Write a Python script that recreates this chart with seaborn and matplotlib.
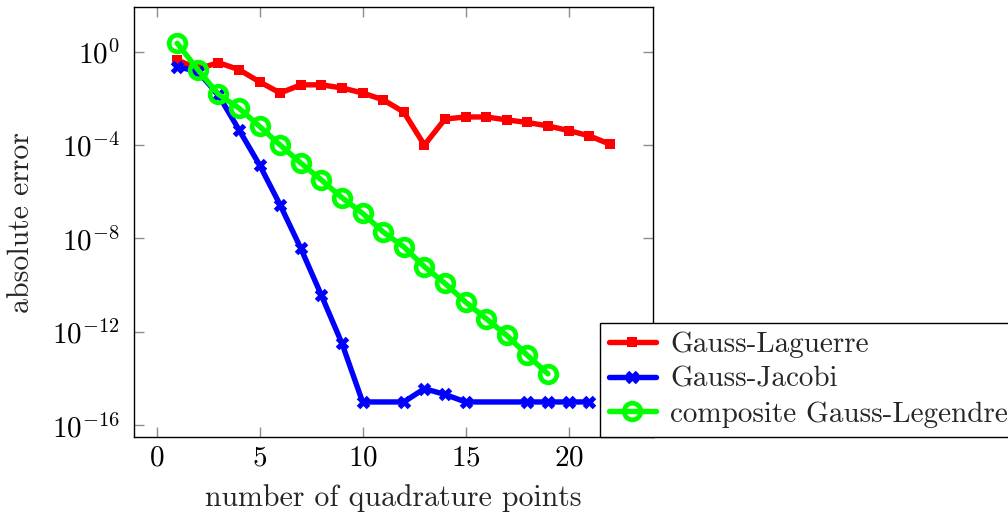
import numpy as np
import pandas as pd
import seaborn as sns
import matplotlib.pyplot as plt

# absolute errors
lag_n = list(range(1, 23))
lag_err = [4.5e-1, 1.8e-1, 3.4e-1, 1.7e-1, 5.1e-2, 1.7e-2, 3.8e-2, 3.8e-2, 2.8e-2, 1.7e-2, 8.7e-3,
           2.6e-3, 1.0e-4, 1.3e-3, 1.6e-3, 1.6e-3, 1.2e-3, 9.3e-4, 6.6e-4, 4.2e-4, 2.5e-4, 1.1e-4]

jac_n = [1, 2, 3, 4, 5, 6, 7, 8, 9, 10, 12, 13, 14, 15, 18, 19, 20, 21]
jac_err = [2.3e-1, 1.4e-1, 1.4e-2, 4.5e-4, 1.4e-5, 2.7e-7, 3.8e-9, 3.7e-11, 3.2e-13, 1.0e-15,
           1.0e-15, 3.7e-15, 2.1e-15, 1.0e-15, 1.0e-15, 1.0e-15, 1.0e-15, 1.0e-15]

leg_n = list(range(1, 20))
leg_err = [2.3, 1.7e-1, 1.5e-2, 3.8e-3, 6.3e-4, 1.0e-4, 1.7e-5, 3.2e-6, 5.6e-7, 1.2e-7, 1.9e-8,
           4.4e-9, 6.2e-10, 1.2e-10, 1.9e-11, 3.7e-12, 7.1e-13, 1.0e-13, 1.6e-14]

ytick_vals = [1e0, 1e-4, 1e-8, 1e-12, 1e-16]
xtick_vals = [0, 5, 10, 15, 20]

sns.set_theme(style="ticks")
plt.rcParams['font.family'] = ['cmr10']
plt.rcParams['mathtext.fontset'] = 'cm'
plt.rcParams['axes.formatter.use_mathtext'] = True
plt.rcParams['axes.unicode_minus'] = True

FS = 21

fig = plt.figure(figsize=(10.08, 5.18), dpi=100)
ax = fig.add_axes([0.1329, 0.1564, 0.5149, 0.8295])

lag_df = pd.DataFrame({"n": lag_n, "err": lag_err})
jac_df = pd.DataFrame({"n": jac_n, "err": jac_err})
leg_df = pd.DataFrame({"n": leg_n, "err": leg_err})

sns.lineplot(data=lag_df, x="n", y="err", ax=ax, color=(1, 0, 0), lw=3.9,
             marker="s", markersize=7.5, markeredgewidth=0, label="Gauss-Laguerre")
sns.lineplot(data=jac_df, x="n", y="err", ax=ax, color=(0, 0, 1), lw=3.9,
             marker="x", markersize=7.5, markeredgewidth=3.6, markeredgecolor=(0, 0, 1),
             label="Gauss-Jacobi")
sns.lineplot(data=leg_df, x="n", y="err", ax=ax, color=(0, 1, 0), lw=3.9,
             marker="o", markersize=12, markeredgewidth=3.4, markerfacecolor="none",
             markeredgecolor=(0, 1, 0), label="composite Gauss-Legendre")

ax.set_yscale("log")
ax.set_xlim(-1.1, 24.1)
ax.set_ylim(10 ** -16.5, 10 ** 1.9)
ax.set_yticks(ytick_vals)
ax.set_xticks(xtick_vals)
ax.minorticks_off()
ax.tick_params(direction="in", length=7.5, width=1, color="0.55", labelsize=FS,
               top=True, right=True, labelcolor="black")
ax.tick_params(axis="x", pad=6)
ax.tick_params(axis="y", pad=10)
for s in ax.spines.values():
    s.set_color("black")
    s.set_linewidth(1)

ax.set_xlabel("number of quadrature points", fontsize=FS + 0.5, labelpad=9)
ax.set_ylabel("absolute error", fontsize=FS + 0.5, labelpad=12)

handles, labels = ax.get_legend_handles_labels()
ax.get_legend().remove()
leg = fig.legend(handles, labels, loc="lower left", bbox_to_anchor=(0.595, 0.1564),
                 bbox_transform=fig.transFigure, borderaxespad=0, fontsize=FS,
                 frameon=True, fancybox=False, framealpha=1, edgecolor="black",
                 handlelength=1.6, labelspacing=0.28, borderpad=0.32, handletextpad=0.5)
leg.get_frame().set_linewidth(1)

fig.savefig("out.png", dpi=100)
